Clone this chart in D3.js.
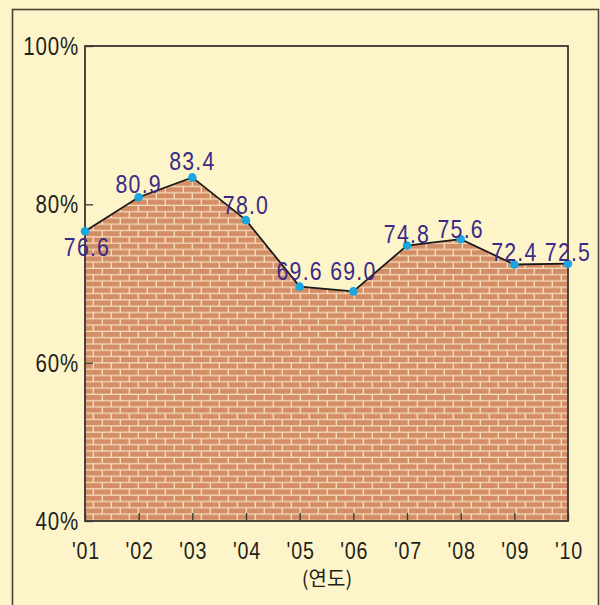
<!DOCTYPE html>
<html><head><meta charset="utf-8">
<script src="https://cdn.jsdelivr.net/npm/d3@7"></script>
<style>body{margin:0;background:#fdf5c9}svg{display:block}</style>
</head><body>
<svg id="c" width="600" height="605"></svg>
<script>
const years = ["'01","'02","'03","'04","'05","'06","'07","'08","'09","'10"];
const values = [76.6, 80.9, 83.4, 78.0, 69.6, 69.0, 74.8, 75.6, 72.4, 72.5];
const yTicks = [40, 60, 80, 100];
const xTitle = "(연도)";
// label vertical offsets (style)
const labelDy = [15, -14, -17, -16, -16, -21, -12, -11, -13, -12];

const FONT = "'Liberation Sans', Arial, sans-serif";
const SX = 0.82; // horizontal condense
const svg = d3.select("#c");
const W = 600, H = 605;
const m = {left: 85, right: 568, top: 46, bottom: 521};

svg.append("rect").attr("width", W).attr("height", H).attr("fill", "#fdf5c9");
// outer frame
svg.append("rect").attr("x", 12.5).attr("y", 9.5).attr("width", 586).attr("height", 620)
  .attr("fill", "none").attr("stroke", "#4a4438").attr("stroke-width", 1.6);

const defs = svg.append("defs");
const pat = defs.append("pattern").attr("id", "brick").attr("patternUnits", "userSpaceOnUse")
  .attr("width", 18).attr("height", 12.6).attr("x", m.left).attr("y", m.bottom);
pat.append("rect").attr("width", 18).attr("height", 12.6).attr("fill", "#f6dbbd");
pat.append("rect").attr("x", 0).attr("y", 0).attr("width", 16.6).attr("height", 5.0).attr("fill", "#d38e66");
pat.append("rect").attr("x", 9).attr("y", 6.3).attr("width", 16.6).attr("height", 5.0).attr("fill", "#d38e66");
pat.append("rect").attr("x", -9).attr("y", 6.3).attr("width", 16.6).attr("height", 5.0).attr("fill", "#d38e66");

const x = d3.scalePoint().domain(years).range([m.left, m.right]);
const y = d3.scaleLinear().domain([40, 100]).range([m.bottom, m.top]);

const area = d3.area().x((d, i) => x(years[i])).y0(y(40)).y1(d => y(d));
svg.append("path").datum(values).attr("d", area).attr("fill", "url(#brick)");

const line = d3.line().x((d, i) => x(years[i])).y(d => y(d));
svg.append("path").datum(values).attr("d", line).attr("fill", "none")
  .attr("stroke", "#1a1a1a").attr("stroke-width", 1.8);

// plot border
svg.append("rect").attr("x", m.left).attr("y", m.top).attr("width", m.right - m.left).attr("height", m.bottom - m.top)
  .attr("fill", "none").attr("stroke", "#3a3630").attr("stroke-width", 1.8);

// y axis
const yAxis = d3.axisRight(y).tickValues(yTicks).tickSize(8).tickFormat("");
const ga = svg.append("g").attr("transform", `translate(${m.left},0)`).call(yAxis);
ga.select(".domain").remove();
ga.selectAll("line").attr("stroke", "#3a3630").attr("stroke-width", 1.3);
svg.selectAll(".ylab").data(yTicks).join("text")
  .attr("transform", d => `translate(79,${y(d) + 9}) scale(${SX},1)`).attr("text-anchor", "end")
  .attr("font-family", FONT).attr("font-size", 25).attr("letter-spacing", 1)
  .attr("fill", "#231f1a").text(d => d + "%");

// x axis
const xAxis = d3.axisTop(x).tickSize(8).tickFormat("");
const gx = svg.append("g").attr("transform", `translate(0,${m.bottom})`).call(xAxis);
gx.select(".domain").remove();
gx.selectAll("line").attr("stroke", "#3a3630").attr("stroke-width", 1.3);
svg.selectAll(".xlab").data(years).join("text")
  .attr("transform", d => `translate(${x(d) + 1},559) scale(${SX},1)`).attr("text-anchor", "middle")
  .attr("font-family", FONT).attr("font-size", 24).attr("letter-spacing", 1)
  .attr("fill", "#231f1a").text(d => d);
svg.append("text").attr("x", 327).attr("y", 586).attr("text-anchor", "middle")
  .attr("font-family", "Noto Sans CJK KR, sans-serif").attr("font-size", 20)
  .attr("fill", "#231f1a").text(xTitle);

// points
svg.selectAll(".pt").data(values).join("circle")
  .attr("cx", (d, i) => x(years[i])).attr("cy", d => y(d)).attr("r", 4.3)
  .attr("fill", "#1ba6e0");

// labels
svg.selectAll(".vl").data(values).join("text")
  .attr("transform", (d, i) => `translate(${x(years[i]) + (i === 0 ? 2 : 0)},${y(d) + labelDy[i]}) scale(${SX},1)`)
  .attr("dy", "0.36em").attr("text-anchor", "middle")
  .attr("font-family", FONT).attr("font-size", 26)
  .attr("letter-spacing", 1.5).attr("fill", "#3b2a86").text(d => d.toFixed(1));
</script>
</body></html>
